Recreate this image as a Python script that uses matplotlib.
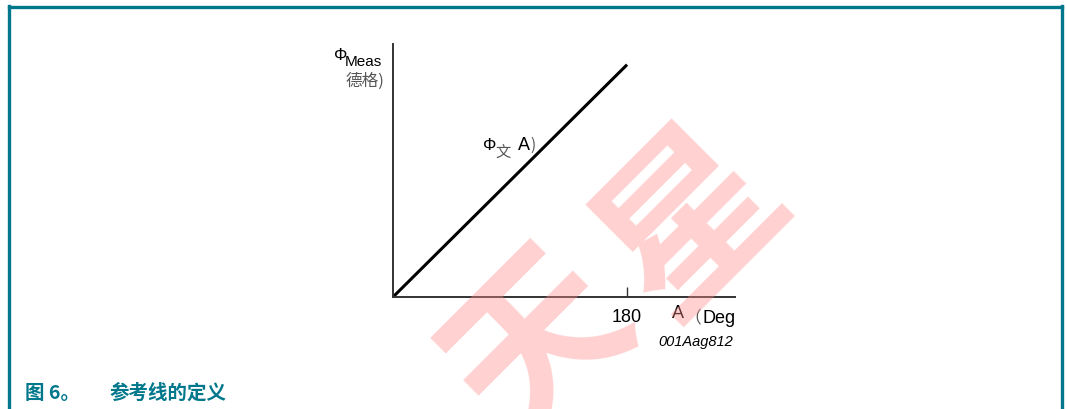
import matplotlib.pyplot as plt
from matplotlib.lines import Line2D

plt.rcParams['font.family'] = ['Liberation Sans', 'Noto Sans CJK SC', 'DejaVu Sans']

W, H = 1067, 410
teal = '#00778b'

# reference line: measured phase equals applied angle
angle = [0, 180]
phase = [0, 180]
xticks = [180]
xticklabels = ['180']
xmax, ymax = 263, 196

fig = plt.figure(figsize=(W / 100, H / 100), dpi=100)

def px(x, y):
    return x / W, 1 - y / H

# frame around the figure block
fig.add_artist(Line2D([px(9, 0)[0]] * 2, [px(0, 7)[1], 0], color=teal, lw=2.4))
fig.add_artist(Line2D([px(9, 0)[0], px(1062, 0)[0]], [px(0, 7.5)[1]] * 2, color=teal, lw=2.4))
fig.add_artist(Line2D([px(1062, 0)[0]] * 2, [px(0, 7)[1], 0], color=teal, lw=2.4))

x0, y0 = px(393, 298)
x1, y1 = px(735, 45)
ax = fig.add_axes([x0, y0, x1 - x0, y1 - y0])
ax.patch.set_alpha(0)
ax.plot(angle, phase, color='black', lw=2.2, solid_capstyle='butt')
ax.set_xlim(0, xmax)
ax.set_ylim(0, ymax)
for s in ['top', 'right']:
    ax.spines[s].set_visible(False)
for s in ['left', 'bottom']:
    ax.spines[s].set_color('#333333')
    ax.spines[s].set_linewidth(1.4)
ax.set_xticks(xticks)
ax.set_xticklabels(xticklabels, fontsize=13)
ax.tick_params(axis='x', direction='in', length=7, width=1.0, color='#333333', pad=8)
ax.set_yticks([])

# axis and curve labels
fig.text(*px(334, 60), 'Φ', fontsize=12, va='baseline')
fig.text(*px(345, 66), 'Meas', fontsize=11, va='baseline')
fig.text(*px(345, 86), '德格)', fontsize=12, va='baseline', color='#555555',
         family=['Noto Sans CJK SC', 'DejaVu Sans'])
fig.text(*px(483, 150), 'Φ', fontsize=12, va='baseline')
fig.text(*px(495, 158), '文', fontsize=11, va='baseline', color='#555555',
         family=['Noto Sans CJK SC', 'DejaVu Sans'])
fig.text(*px(518, 150), 'A', fontsize=13, va='baseline')
fig.text(*px(530, 150), ')', fontsize=11, va='baseline', color='#555555',
         family=['Noto Sans CJK SC', 'DejaVu Sans'])
fig.text(*px(672, 318), 'A', fontsize=13, va='baseline')
fig.text(*px(684, 322), '（', fontsize=12, va='baseline', color='#555555',
         family=['Noto Sans CJK SC', 'DejaVu Sans'])
fig.text(*px(702, 323), 'Deg', fontsize=13, va='baseline')
fig.text(*px(733, 346), '001Aag812', fontsize=10.5, style='italic', ha='right', va='baseline')

# caption
fig.text(*px(25, 399), '图 6。', fontsize=14, weight='bold', color=teal, va='baseline',
         family=['Noto Sans CJK SC', 'DejaVu Sans'])
fig.text(*px(110, 399), '参考线的定义', fontsize=14, weight='bold', color=teal, va='baseline',
         family=['Noto Sans CJK SC', 'DejaVu Sans'])

# watermark
for ch, (cx, cy) in zip('天星', [(540, 345), (692, 222)]):
    fig.text(*px(cx, cy), ch, fontsize=128, rotation=45, color='#ff8c8c', alpha=0.4,
             ha='center', va='center', weight='bold', zorder=5,
             family=['Noto Sans CJK SC', 'DejaVu Sans'])

fig.savefig('out.png', dpi=100)
